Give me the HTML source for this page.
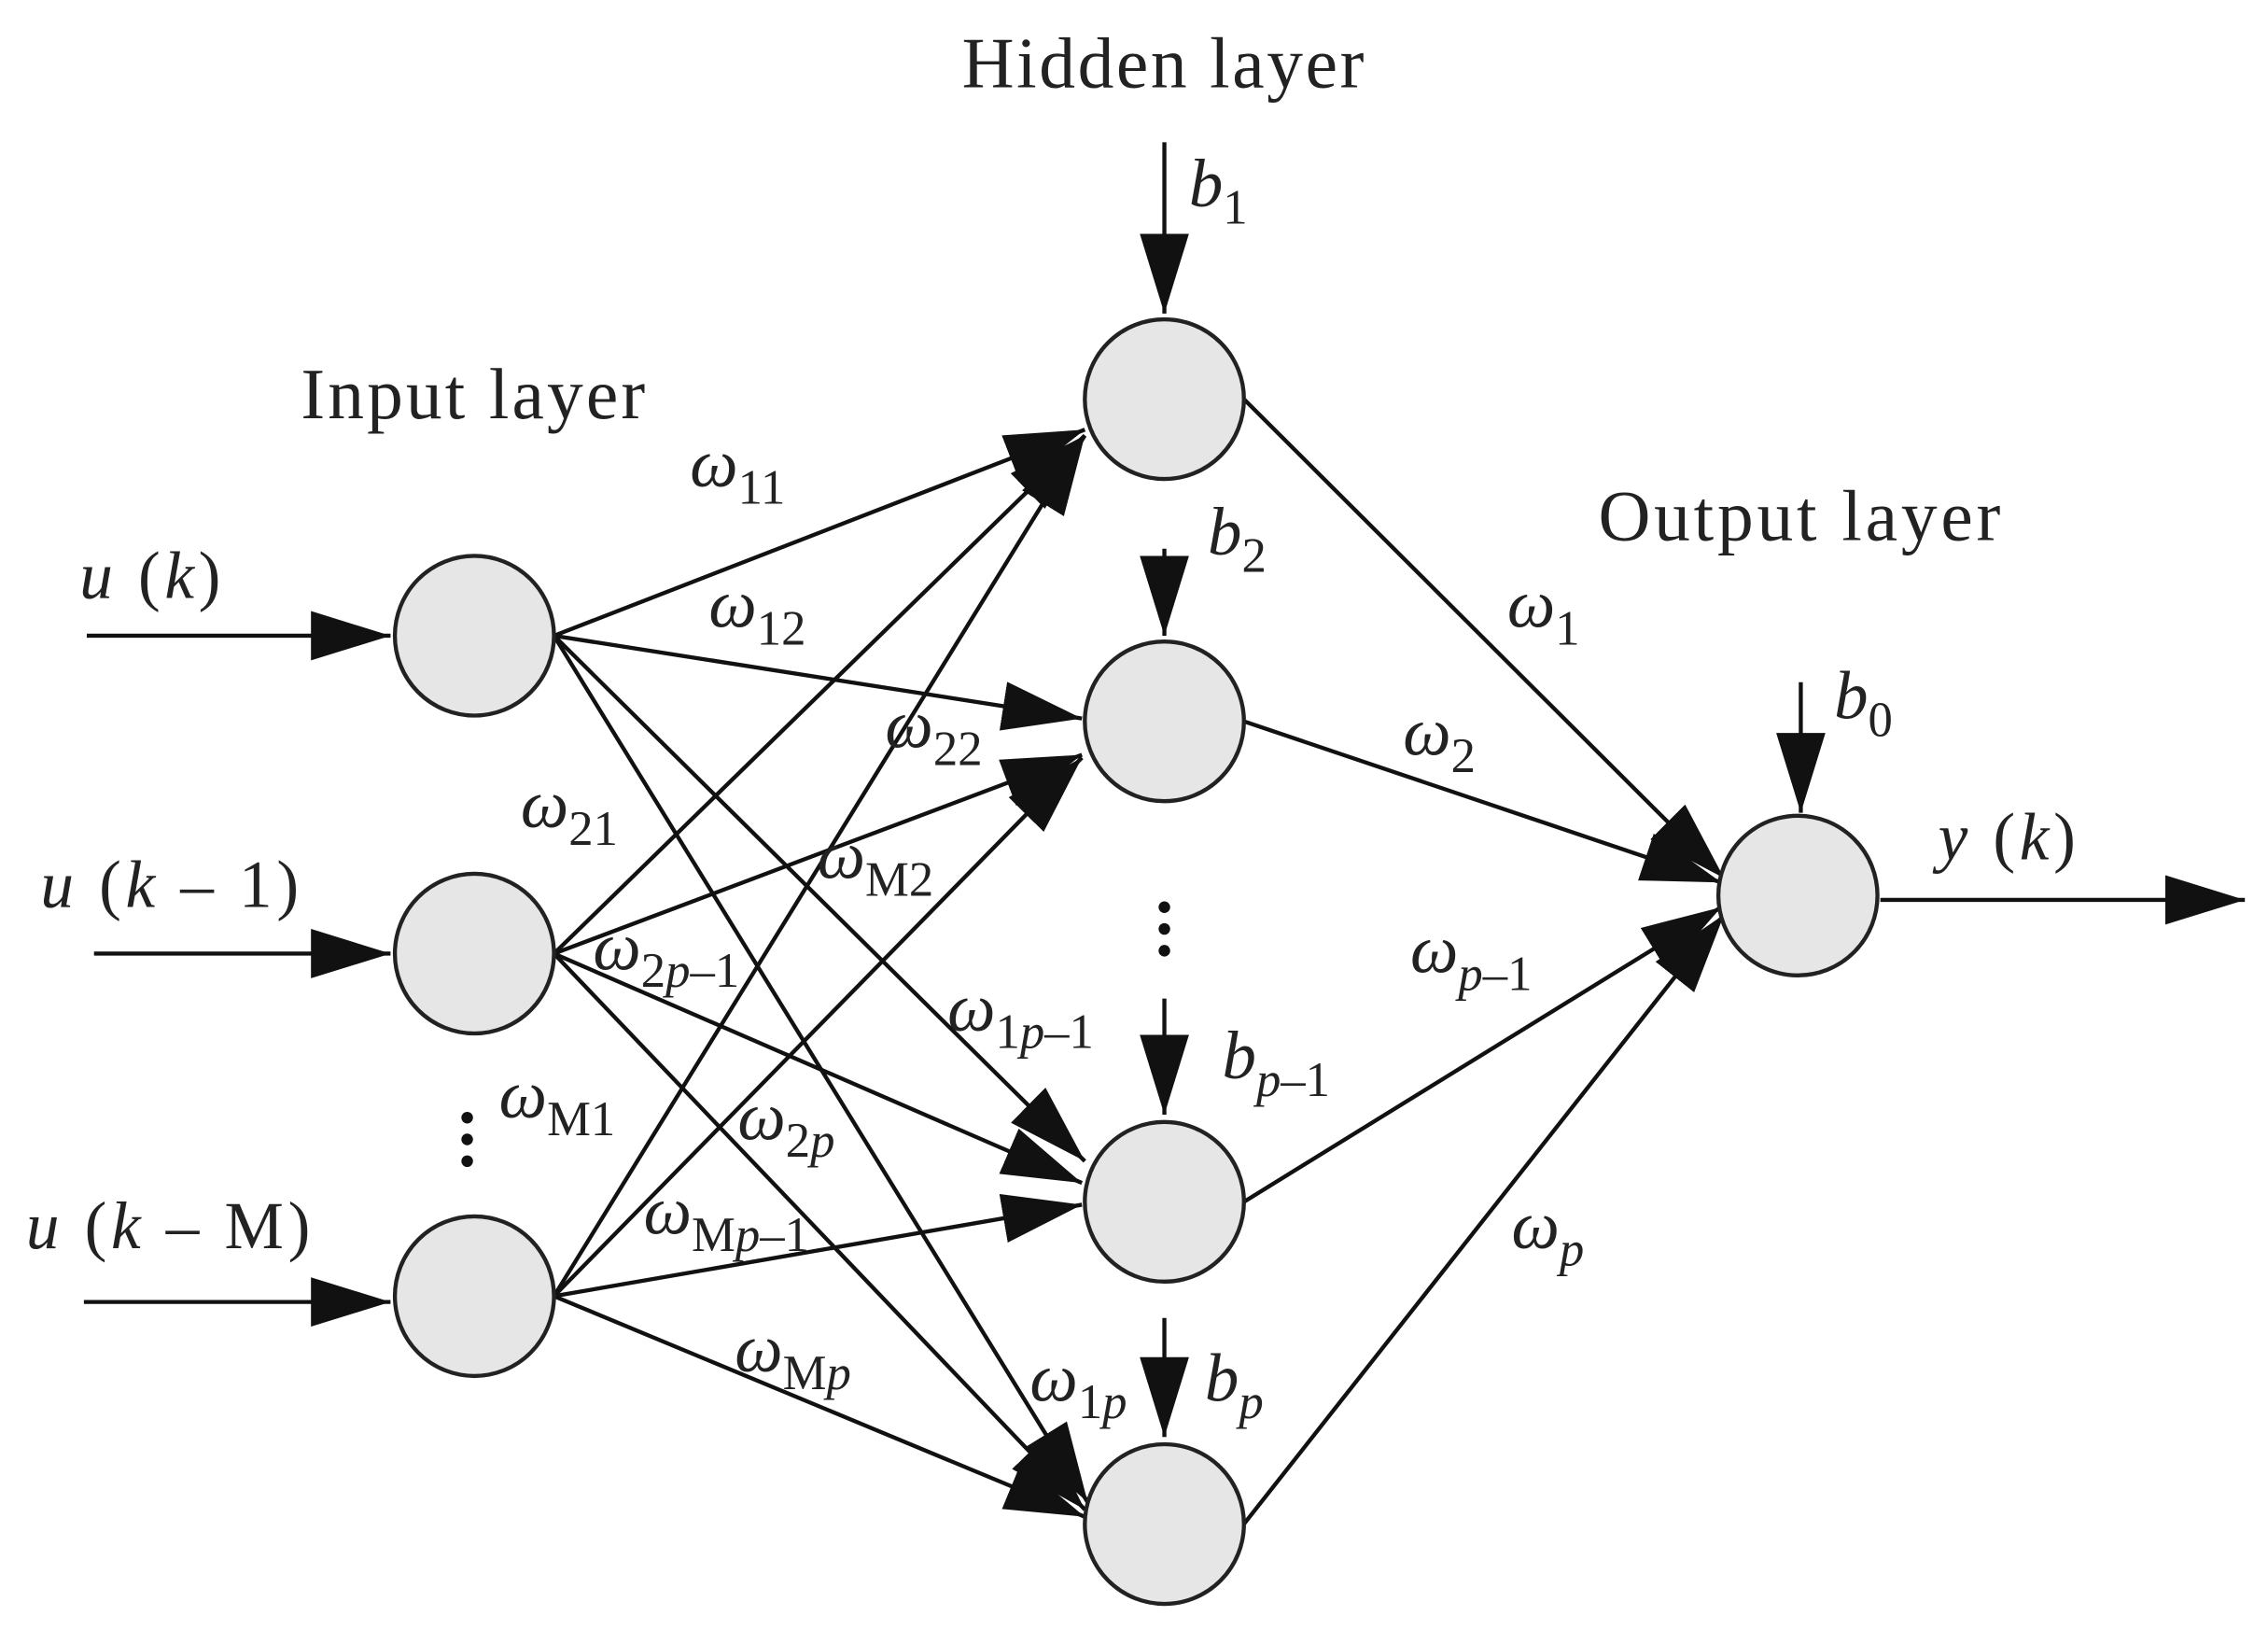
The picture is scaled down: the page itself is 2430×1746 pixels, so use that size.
<!DOCTYPE html>
<html><head><meta charset="utf-8"><style>
html,body{margin:0;padding:0;background:#fff;}
svg{display:block;}
text{font-family:"Liberation Serif",serif;fill:#222;}
.w{font-style:italic;font-size:47px;}
.s{font-style:normal;font-size:34px;}
.si{font-style:italic;font-size:34px;}
.n{font-style:normal;}
.L{font-size:50px;letter-spacing:2px;}
.u{font-size:46px;letter-spacing:3px;}
</style></head><body>
<svg width="2430" height="1746" viewBox="0 0 1568 1123" preserveAspectRatio="none" xmlns="http://www.w3.org/2000/svg">
<defs>
<marker id="a" markerUnits="userSpaceOnUse" markerWidth="60" markerHeight="40" refX="55" refY="17" orient="auto">
<path d="M0,0 L55,17 L0,34 Z" fill="#111"/>
</marker>
</defs>
<g stroke="#111" stroke-width="2.8" fill="none" marker-end="url(#a)">
<line x1="60" y1="438" x2="270" y2="438"/>
<line x1="65" y1="657" x2="270" y2="657"/>
<line x1="58" y1="897" x2="270" y2="897"/>
<line x1="1300" y1="620" x2="1552" y2="620"/>
<line x1="805" y1="98" x2="805" y2="216"/>
<line x1="805" y1="378" x2="805" y2="438"/>
<line x1="805" y1="688" x2="805" y2="768"/>
<line x1="805" y1="908" x2="805" y2="990"/>
<line x1="1245" y1="470" x2="1245" y2="560"/>
<line x1="383" y1="438" x2="750" y2="296"/>
<line x1="383" y1="438" x2="748" y2="495"/>
<line x1="383" y1="438" x2="750" y2="800"/>
<line x1="383" y1="438" x2="752" y2="1035"/>
<line x1="383" y1="657" x2="750" y2="300"/>
<line x1="383" y1="657" x2="748" y2="520"/>
<line x1="383" y1="657" x2="748" y2="815"/>
<line x1="383" y1="657" x2="750" y2="1040"/>
<line x1="383" y1="893" x2="750" y2="300"/>
<line x1="383" y1="893" x2="748" y2="522"/>
<line x1="383" y1="893" x2="748" y2="830"/>
<line x1="383" y1="893" x2="750" y2="1045"/>
<line x1="860" y1="275" x2="1192" y2="605"/>
<line x1="860" y1="497" x2="1190" y2="608"/>
<line x1="860" y1="828" x2="1190" y2="625"/>
<line x1="860" y1="1050" x2="1192" y2="630"/>
</g>
<g fill="#e6e6e6" stroke="#222" stroke-width="2.8">
<circle cx="328" cy="438" r="55"/>
<circle cx="328" cy="657" r="55"/>
<circle cx="328" cy="893" r="55"/>
<circle cx="805" cy="275" r="55"/>
<circle cx="805" cy="497" r="55"/>
<circle cx="805" cy="828" r="55"/>
<circle cx="805" cy="1050" r="55"/>
<circle cx="1243" cy="617" r="55"/>
</g>
<g fill="#111">
<circle cx="805" cy="625" r="4"/><circle cx="805" cy="640" r="4"/><circle cx="805" cy="655" r="4"/>
<circle cx="323" cy="770" r="4"/><circle cx="323" cy="785" r="4"/><circle cx="323" cy="800" r="4"/>
</g>
<text class="L" x="665" y="60" textLength="280">Hidden layer</text>
<text class="L" x="208" y="288" textLength="240">Input layer</text>
<text class="L" x="1105" y="372" textLength="280">Output layer</text>
<text class="w u" x="55" y="412">u <tspan class="n">(</tspan>k<tspan class="n">)</tspan></text>
<text class="w u" x="28" y="625">u <tspan class="n">(</tspan>k <tspan class="n">– 1)</tspan></text>
<text class="w u" x="18" y="860">u <tspan class="n">(</tspan>k <tspan class="n">– M)</tspan></text>
<text class="w u" x="1340" y="592">y <tspan class="n">(</tspan>k<tspan class="n">)</tspan></text>
<text class="w" x="822" y="142">b<tspan class="s" dy="12">1</tspan></text>
<text class="w" x="835" y="382">b<tspan class="s" dy="12">2</tspan></text>
<text class="w" x="845" y="743">b<tspan class="si" dy="12">p</tspan><tspan class="s">–1</tspan></text>
<text class="w" x="833" y="965">b<tspan class="si" dy="12">p</tspan></text>
<text class="w" x="1268" y="495">b<tspan class="s" dy="12">0</tspan></text>
<text class="w" x="477" y="335">ω<tspan class="s" dy="12">11</tspan></text>
<text class="w" x="490" y="432">ω<tspan class="s" dy="12">12</tspan></text>
<text class="w" x="612" y="515">ω<tspan class="s" dy="12">22</tspan></text>
<text class="w" x="360" y="570">ω<tspan class="s" dy="12">21</tspan></text>
<text class="w" x="565" y="605">ω<tspan class="s" dy="12">M2</tspan></text>
<text class="w" x="410" y="668">ω<tspan class="s" dy="12">2</tspan><tspan class="si">p</tspan><tspan class="s">–1</tspan></text>
<text class="w" x="655" y="710">ω<tspan class="s" dy="12">1</tspan><tspan class="si">p</tspan><tspan class="s">–1</tspan></text>
<text class="w" x="345" y="770">ω<tspan class="s" dy="12">M1</tspan></text>
<text class="w" x="510" y="785">ω<tspan class="s" dy="12">2</tspan><tspan class="si">p</tspan></text>
<text class="w" x="445" y="850">ω<tspan class="s" dy="12">M</tspan><tspan class="si">p</tspan><tspan class="s">–1</tspan></text>
<text class="w" x="508" y="945">ω<tspan class="s" dy="12">M</tspan><tspan class="si">p</tspan></text>
<text class="w" x="712" y="965">ω<tspan class="s" dy="12">1</tspan><tspan class="si">p</tspan></text>
<text class="w" x="1042" y="432">ω<tspan class="s" dy="12">1</tspan></text>
<text class="w" x="970" y="520">ω<tspan class="s" dy="12">2</tspan></text>
<text class="w" x="975" y="670">ω<tspan class="si" dy="12">p</tspan><tspan class="s">–1</tspan></text>
<text class="w" x="1045" y="860">ω<tspan class="si" dy="12">p</tspan></text>
</svg>
</body></html>
